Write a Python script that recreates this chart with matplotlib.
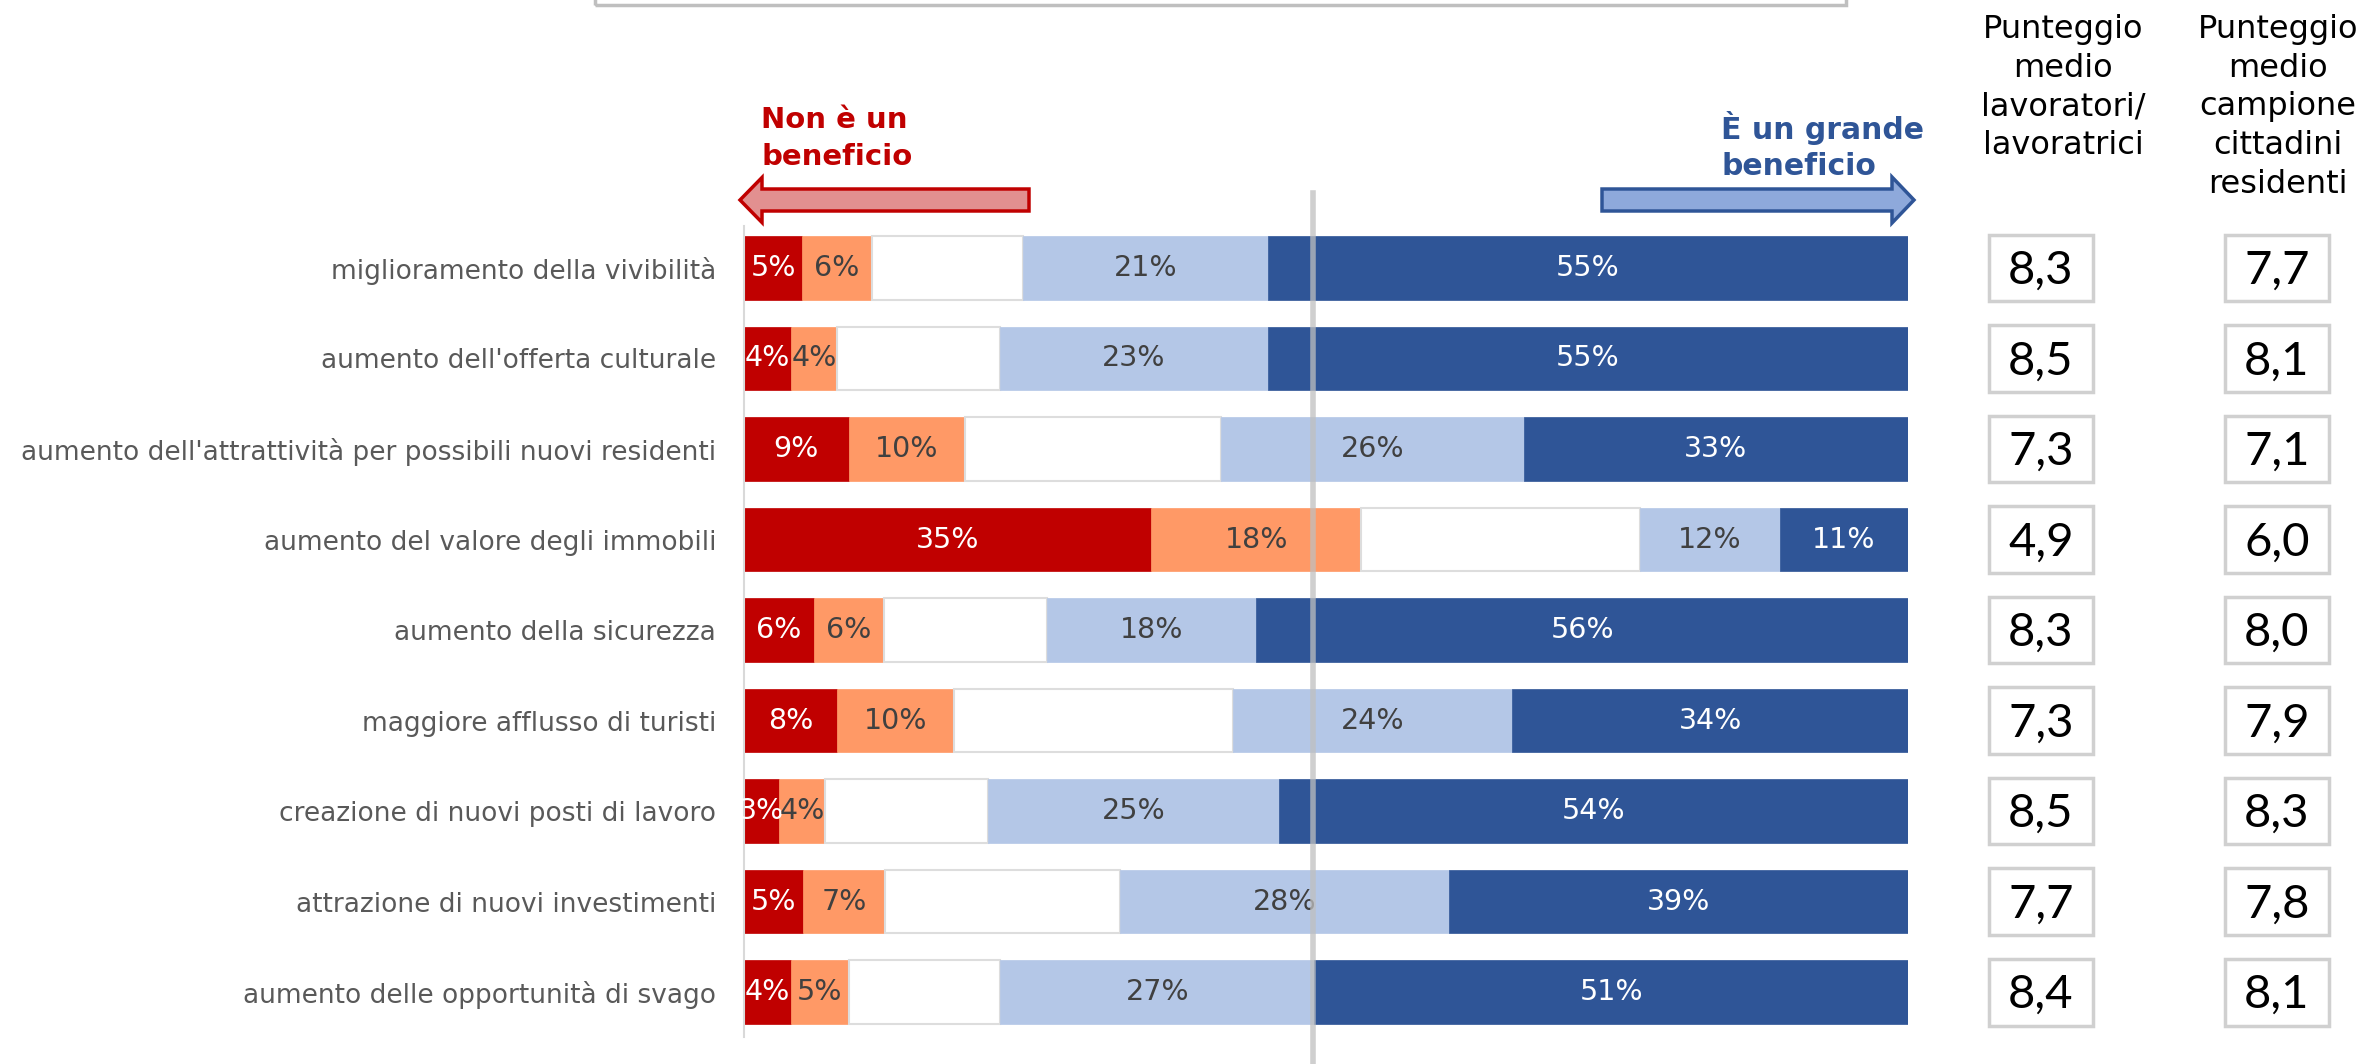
import matplotlib.pyplot as plt
from matplotlib.patches import Polygon, Rectangle
import numpy as np

W, H = 2363, 1064

categories = [
    "miglioramento della vivibilità",
    "aumento dell'offerta culturale",
    "aumento dell'attrattività per possibili nuovi residenti",
    "aumento del valore degli immobili",
    "aumento della sicurezza",
    "maggiore afflusso di turisti",
    "creazione di nuovi posti di lavoro",
    "attrazione di nuovi investimenti",
    "aumento delle opportunità di svago",
]

# shares per category: "non è un beneficio" -> "è un grande beneficio"
dark_red = [5, 4, 9, 35, 6, 8, 3, 5, 4]
orange = [6, 4, 10, 18, 6, 10, 4, 7, 5]
neutral = [13, 14, 22, 24, 14, 24, 14, 20, 13]   # unlabelled middle band
light_blue = [21, 23, 26, 12, 18, 24, 25, 28, 27]
dark_blue = [55, 55, 33, 11, 56, 34, 54, 39, 51]

score_workers = ["8,3", "8,5", "7,3", "4,9", "8,3", "7,3", "8,5", "7,7", "8,4"]
score_residents = ["7,7", "8,1", "7,1", "6,0", "8,0", "7,9", "8,3", "7,8", "8,1"]

series = [dark_red, orange, neutral, light_blue, dark_blue]
colors = ["#C00000", "#FF9966", "#FFFFFF", "#B4C7E7", "#2F5597"]
text_colors = ["white", "#404040", None, "#404040", "white"]

mid_line = 48.9


def px(x, y):
    return x / W, 1 - y / H


def draw_arrow(x_tail, x_tip, yc, shaft_h, head_h, head_len, fc, ec):
    d = 1 if x_tip > x_tail else -1
    xb = x_tip - d * head_len
    pts = [
        (x_tail, yc - shaft_h / 2), (xb, yc - shaft_h / 2), (xb, yc - head_h / 2),
        (x_tip, yc), (xb, yc + head_h / 2), (xb, yc + shaft_h / 2),
        (x_tail, yc + shaft_h / 2),
    ]
    poly = Polygon([px(*p) for p in pts], closed=True, transform=fig.transFigure,
                   facecolor=fc, edgecolor=ec, linewidth=2.5)
    fig.patches.append(poly)


fig = plt.figure(figsize=(W / 100, H / 100), dpi=100)

ax_rect = [744 / W, 1 - 1037 / H, 1164 / W, 811 / H]
ax = fig.add_axes(ax_rect)
ylim = (8.497, -0.464)

data = np.array(series, dtype=float)
pct = data / data.sum(axis=0) * 100
y = np.arange(len(categories))
left = np.zeros(len(categories))
for k in range(len(series)):
    is_neutral = text_colors[k] is None
    ax.barh(y, pct[k], left=left, height=0.70, color=colors[k],
            edgecolor="#DDDDDD" if is_neutral else colors[k],
            linewidth=1.5 if is_neutral else 0.5, zorder=2)
    if not is_neutral:
        for i in range(len(categories)):
            ax.text(left[i] + pct[k][i] / 2, y[i], f"{series[k][i]}%",
                    ha="center", va="center", fontsize=20.5,
                    color=text_colors[k], zorder=4)
    left += pct[k]

ax.set_xlim(0, 100)
ax.set_ylim(*ylim)
ax.set_yticks(y)
ax.set_yticklabels(categories, fontsize=19, color="#595959")
ax.tick_params(axis="y", length=0, pad=20)
ax.set_xticks([])
for s in ["top", "right", "bottom"]:
    ax.spines[s].set_visible(False)
ax.spines["left"].set_color("#D9D9D9")
ax.spines["left"].set_linewidth(1.5)

ax.axvline(mid_line, ymin=-0.033, ymax=1.041, color="#BFBFBF", alpha=0.75,
           linewidth=4, clip_on=False, zorder=5)

# score boxes
ax2 = fig.add_axes([1940 / W, ax_rect[1], 423 / W, ax_rect[3]])
ax2.set_xlim(1940, 2363)
ax2.set_ylim(*ylim)
ax2.axis("off")
for xc, scores in [(2041, score_workers), (2277, score_residents)]:
    for i, s in enumerate(scores):
        ax2.add_patch(Rectangle((xc - 52, i - 0.37), 104, 0.74, facecolor="white",
                                edgecolor="#D0D0D0", linewidth=2.5))
        ax2.text(xc, i + 0.03, s, ha="center", va="center", fontsize=34,
                 family="Lato", color="black")

fig.text(*px(2063, 14), "Punteggio\nmedio\nlavoratori/\nlavoratrici", ha="center",
         va="top", fontsize=23, linespacing=1.32, color="black")
fig.text(*px(2278, 14), "Punteggio\nmedio\ncampione\ncittadini\nresidenti", ha="center",
         va="top", fontsize=23, linespacing=1.32, color="black")

# direction arrows and captions
draw_arrow(1029, 740, 200, 22, 45, 22, "#E29090", "#C00000")
draw_arrow(1602, 1914, 200, 22, 46, 22, "#8EA9DB", "#2F5597")
fig.text(*px(761, 106), "Non è un\nbeneficio", ha="left", va="top", fontsize=21,
         fontweight="bold", color="#C00000", linespacing=1.4)
fig.text(*px(1924, 111), "È un grande\nbeneficio", ha="right", va="top", fontsize=21.5,
         fontweight="bold", color="#2F5597", linespacing=1.3, multialignment="left")

# frame cut off at the top of the slide
fig.patches.append(Rectangle(px(595, 5), 1251 / W, 20 / H, transform=fig.transFigure,
                             facecolor="none", edgecolor="#BFBFBF", linewidth=2.5))

fig.savefig("out.png", dpi=100)
